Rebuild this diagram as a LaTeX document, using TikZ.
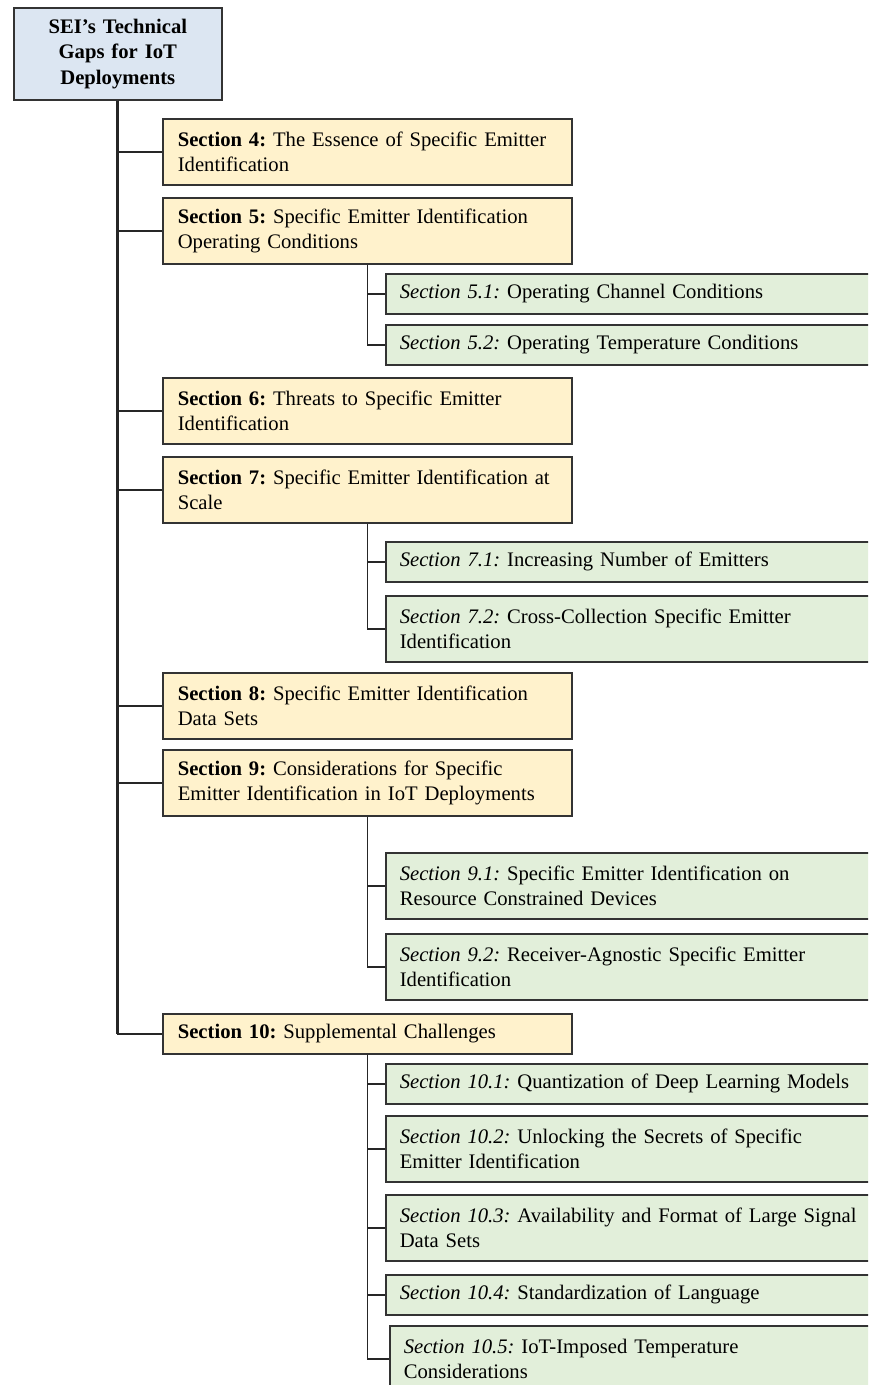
\documentclass[tikz,border=0pt]{standalone}
\usepackage{fontspec}
\setmainfont{Liberation Serif}
\definecolor{rootblue}{HTML}{DCE6F2}
\definecolor{secyellow}{HTML}{FFF2CC}
\definecolor{subgreen}{HTML}{E2EFDA}
\frenchspacing
\begin{document}
\begin{tikzpicture}[x=0.75pt,y=-0.75pt,
    font=\fontsize{15.5}{18.75}\selectfont,
    box/.style={draw=black!80, line width=1.2pt, anchor=north west, align=left, inner ysep=0pt},
    rootbox/.style={box, fill=rootblue, align=center, text width=140pt, minimum height=69pt,
        inner xsep=8pt, font=\fontsize{15.5}{19}\selectfont\bfseries},
    secbox/.style={box, fill=secyellow, text width=284.25pt, inner xsep=11.25pt},
    subbox/.style={box, fill=subgreen, text width=365.25pt, inner xsep=10.5pt},
    oneline/.style={minimum height=30pt},
    twoline/.style={minimum height=49.5pt},
    trunk/.style={line width=2pt, draw=black!85},
    branch/.style={line width=1.2pt, draw=black!85}]

    % Bildrand, rechts und unten abgeschnitten
    \path[use as bounding box, clip] (0,0) rectangle (868,1385);

    % Wurzel
    \node[rootbox] (root) at (13,7) {SEI’s Technical\\Gaps for IoT\\Deployments};

    % Hauptabschnitte
    \node[secbox,twoline] (s4) at (162,118) {\textbf{Section 4:} The Essence of Specific Emitter\\Identification};
    \node[secbox,twoline] (s5) at (162,197) {\textbf{Section 5:} Specific Emitter Identification\\Operating Conditions};
    \node[secbox,twoline] (s6) at (162,377) {\textbf{Section 6:} Threats to Specific Emitter\\Identification};
    \node[secbox,twoline] (s7) at (162,456) {\textbf{Section 7:} Specific Emitter Identification at\\Scale};
    \node[secbox,twoline] (s8) at (162,672) {\textbf{Section 8:} Specific Emitter Identification\\Data Sets};
    \node[secbox,twoline] (s9) at (162,749) {\textbf{Section 9:} Considerations for Specific\\Emitter Identification in IoT Deployments};
    \node[secbox,oneline] (s10) at (162,1013) {\textbf{Section 10:} Supplemental Challenges};

    % Unterabschnitte
    \node[subbox,oneline] (s51) at (385,273) {\textit{Section 5.1:} Operating Channel Conditions};
    \node[subbox,oneline] (s52) at (385,324) {\textit{Section 5.2:} Operating Temperature Conditions};
    \node[subbox,oneline] (s71) at (385,541) {\textit{Section 7.1:} Increasing Number of Emitters};
    \node[subbox,twoline] (s72) at (385,595) {\textit{Section 7.2:} Cross-Collection Specific Emitter\\Identification};
    \node[subbox,twoline] (s91) at (385,852) {\textit{Section 9.1:} Specific Emitter Identification on\\Resource Constrained Devices};
    \node[subbox,twoline] (s92) at (385,933) {\textit{Section 9.2:} Receiver-Agnostic Specific Emitter\\Identification};
    \node[subbox,oneline] (s101) at (385,1063) {\textit{Section 10.1:} Quantization of Deep Learning Models};
    \node[subbox,twoline] (s102) at (385,1115) {\textit{Section 10.2:} Unlocking the Secrets of Specific\\Emitter Identification};
    \node[subbox,twoline] (s103) at (385,1194) {\textit{Section 10.3:} Availability and Format of Large Signal\\Data Sets};
    \node[subbox,oneline] (s104) at (385,1274) {\textit{Section 10.4:} Standardization of Language};
    \node[subbox,twoline,text width=362.25pt] (s105) at (389,1325) {\textit{Section 10.5:} IoT-Imposed Temperature\\Considerations};

    % Stamm und Aeste
    \draw[trunk] (root.south) -- (root.south |- s10.west);
    \foreach \s in {s4,s5,s6,s7,s8,s9,s10} {
        \draw[branch] (root.south) |- (\s.west);
    }
    \foreach \s in {s51,s52} {
        \draw[branch] (s5.south) |- (\s.west);
    }
    \foreach \s in {s71,s72} {
        \draw[branch] (s7.south) |- (\s.west);
    }
    \foreach \s in {s91,s92} {
        \draw[branch] (s9.south) |- (\s.west);
    }
    \foreach \s in {s101,s102,s103,s104,s105} {
        \draw[branch] (s10.south) |- (\s.west);
    }
\end{tikzpicture}
\end{document}
